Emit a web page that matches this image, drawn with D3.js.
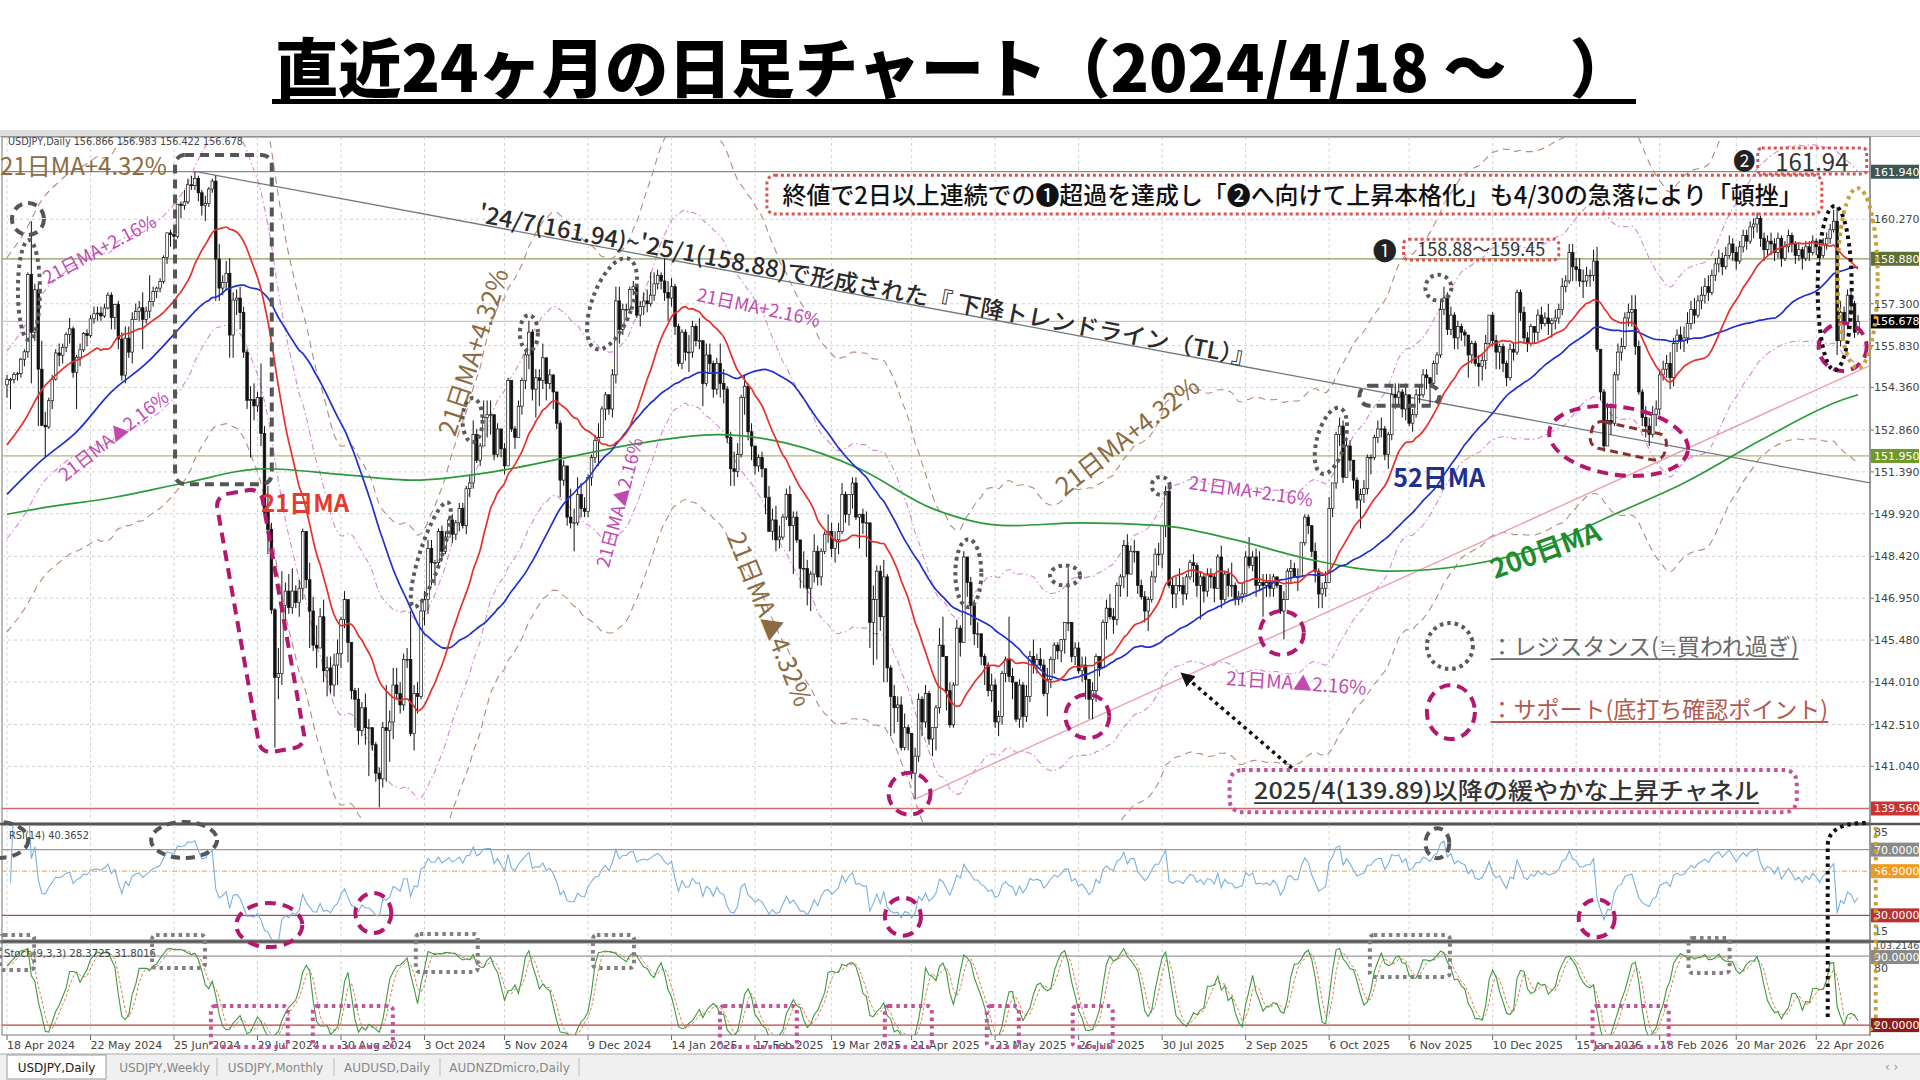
<!DOCTYPE html>
<html lang="ja"><head><meta charset="utf-8"><title>USDJPY Daily</title>
<script src="https://cdn.jsdelivr.net/npm/d3@7/dist/d3.min.js"></script>
<style>
html,body{margin:0;padding:0;background:#fff;}
svg{display:block;font-family:"Noto Sans CJK JP","Noto Sans",sans-serif;}
.ax{font-family:"DejaVu Sans","Liberation Sans",sans-serif;}
</style></head><body>
<svg id="chart" width="1920" height="1080"></svg>
<script>
// ---------------- DATA ----------------
const closes=[
154.64,154.64,
154.81,154.84,155.35,155.61,158.33,
156.30,157.79,155.00,153.03,152.97,
153.89,154.65,155.57,155.49,155.77,
156.22,156.42,154.89,155.42,155.68,
156.25,156.18,156.77,156.95,156.97,
156.87,157.15,157.60,156.82,157.28,
156.06,154.79,156.09,155.60,156.75,
157.03,157.16,156.75,157.04,157.38,
157.73,157.85,158.08,158.92,159.79,
159.73,159.67,160.80,160.75,160.88,
161.48,161.45,161.70,161.20,160.75,
160.82,161.33,161.61,158.87,157.85,
158.05,158.37,156.20,157.43,157.50,
156.99,155.60,153.90,153.93,153.71,
154.00,152.74,149.97,149.37,146.54,
144.17,144.30,146.70,147.20,146.62,
147.20,146.80,147.30,149.30,147.60,
146.50,145.30,145.20,146.30,144.40,
144.50,143.90,144.60,145.00,146.20,
146.90,145.40,143.70,143.40,142.30,
143.10,142.40,142.40,141.80,140.80,
140.60,142.40,142.30,142.60,143.90,
143.60,143.20,144.80,144.80,142.20,
143.60,143.50,146.50,146.90,148.70,
148.20,148.20,149.30,148.60,149.10,
149.70,149.20,149.60,150.10,149.50,
150.80,151.00,152.70,151.80,152.30,
153.30,153.40,153.40,152.00,152.90,
152.20,151.60,154.60,152.90,152.60,
153.70,154.60,155.50,156.30,154.30,
154.70,154.60,155.40,154.50,154.80,
154.20,153.10,151.10,151.60,149.80,
149.60,149.60,150.60,150.10,150.00,
151.20,151.90,152.50,152.60,153.60,
154.10,153.60,154.80,157.40,156.40,
157.10,157.10,157.80,157.90,
156.90,157.20,157.40,157.30,
157.60,158.00,158.30,158.10,157.70,
157.50,157.90,156.50,155.20,156.30,
155.60,155.60,156.50,156.00,156.00,
154.50,155.50,155.20,154.30,155.20,
154.50,154.30,152.60,151.50,151.40,
152.00,154.00,154.40,152.80,152.30,
151.60,151.90,151.50,150.50,149.30,
149.70,149.00,149.10,149.80,150.60,
149.50,149.80,149.00,148.00,148.00,
147.30,147.80,148.60,147.70,148.60,
149.20,149.30,148.70,149.00,149.30,
150.60,149.90,150.60,151.00,149.80,
149.90,149.60,149.60,146.10,146.90,
147.90,146.30,147.70,144.50,143.50,
143.10,143.20,141.70,142.40,142.20,
140.80,141.40,143.40,142.60,143.60,
142.00,142.40,143.10,145.30,144.90,
143.70,142.50,143.90,145.90,145.40,
148.40,147.50,146.70,145.70,145.70,
144.90,144.60,143.70,143.90,142.60,
142.80,144.30,144.80,144.20,144.00,
142.70,143.90,142.80,143.50,144.90,
144.60,144.80,144.60,143.60,144.10,
144.80,145.30,145.10,145.50,146.10,
146.10,144.90,145.20,144.40,144.60,
144.10,143.40,143.70,144.90,144.50,
146.10,146.60,146.30,146.20,147.40,
147.70,148.80,147.80,148.60,148.60,
147.40,147.00,146.50,146.90,147.70,
148.50,148.50,149.50,150.70,147.40,
147.10,147.40,147.40,147.10,147.70,
148.20,148.10,147.40,147.70,147.20,
147.80,147.70,147.30,148.40,146.90,
147.80,147.40,147.40,146.90,147.00,
147.10,148.40,148.10,148.40,147.40,
147.50,147.40,147.50,147.30,147.70,
147.40,146.50,146.90,147.90,148.00,
147.70,147.70,148.90,149.80,149.50,
148.60,147.90,147.10,147.30,147.50,
150.10,151.00,152.70,153.00,151.20,
152.30,151.80,151.10,150.40,150.60,
150.80,151.90,151.90,152.60,152.90,
152.90,152.00,152.70,154.10,154.00,
154.20,153.60,154.10,153.10,153.40,
154.10,154.10,154.80,154.70,154.50,
155.20,155.50,157.10,157.50,156.40,
156.90,156.10,156.50,156.30,156.20,
155.50,155.90,155.20,155.10,155.30,
155.90,156.90,156.00,155.60,155.80,
155.20,154.70,155.70,155.60,157.70,
157.00,156.10,155.90,156.50,
156.30,156.90,156.60,156.80,
156.60,156.70,156.80,157.10,157.90,
158.10,159.10,158.60,158.50,158.10,
158.10,158.30,158.30,158.80,155.70,
154.20,152.30,153.20,153.10,154.80,
155.60,155.80,156.80,157.00,157.10,
155.80,154.20,153.30,153.00,152.70,
153.40,153.60,154.80,155.00,155.20,
154.70,155.90,156.20,156.00,156.10,
156.60,157.10,156.90,157.40,157.60,
157.90,157.70,158.30,158.70,158.90,
158.60,159.00,159.40,159.10,158.80,
159.30,159.70,159.50,160.00,160.10,
160.30,159.60,159.20,159.50,159.40,
159.10,159.60,158.90,159.30,159.70,
159.40,159.00,159.20,158.90,159.30,
159.10,159.50,159.30,159.00,159.40,
159.60,159.90,160.20,156.00,157.00,
156.60,157.60,157.30,156.30,156.68];

const highs=[
154.8,154.7,
154.9,154.9,155.4,155.7,158.4,
160.2,158.0,158.0,156.0,153.5,
154.0,154.8,155.7,155.9,155.9,
156.3,156.8,156.5,155.5,155.9,
156.3,156.4,156.9,157.2,157.2,
157.2,157.3,157.7,157.7,157.3,
157.4,156.3,156.5,156.5,157.0,
157.3,157.4,157.7,157.2,158.3,
157.9,157.9,158.2,159.0,159.8,
159.9,159.9,160.8,160.9,161.3,
161.7,161.8,161.95,161.8,161.3,
161.1,161.4,161.7,161.8,159.4,
158.3,158.8,158.9,157.7,157.8,
157.9,157.2,155.7,154.4,154.5,
154.2,155.2,153.0,150.9,149.6,
146.6,145.2,147.9,147.5,147.8,
148.0,147.4,147.6,149.4,149.2,
148.2,147.0,146.0,146.6,146.9,
144.9,144.9,145.0,145.5,146.3,
147.2,146.5,145.3,143.8,143.8,
143.3,143.6,142.7,142.3,141.9,
141.0,142.6,143.9,143.0,144.5,
144.5,144.0,145.0,145.2,146.5,
143.9,144.0,146.9,147.2,149.0,
149.0,148.3,149.4,149.5,149.3,
149.8,149.9,149.7,150.3,150.3,
150.9,151.3,153.2,152.9,152.4,
153.9,153.9,153.9,153.2,153.1,
152.8,152.4,154.7,154.6,153.0,
153.9,154.7,155.6,156.7,156.4,
155.0,155.0,155.9,155.3,155.0,
154.5,154.2,153.2,151.8,151.5,
150.8,150.1,151.2,151.0,150.5,
151.3,152.0,152.7,153.1,153.7,
154.2,154.1,155.0,157.9,157.9,
157.3,157.3,157.9,158.1,
158.0,157.4,157.7,157.8,
158.4,158.4,158.5,158.4,158.9,
158.1,158.2,158.0,156.6,156.4,
156.4,156.2,156.7,156.6,156.8,
156.0,155.9,155.9,155.3,155.4,
155.9,155.0,154.4,152.8,152.1,
152.4,154.1,154.8,154.5,153.1,
152.2,152.0,152.1,151.5,150.9,
150.1,150.2,149.5,149.9,150.8,
150.9,150.0,150.0,149.0,148.6,
148.3,147.9,149.2,148.8,148.7,
149.3,149.9,149.6,149.3,149.6,
151.0,150.7,150.6,151.2,151.2,
149.9,150.1,150.0,149.3,147.4,
148.1,148.1,148.3,147.8,144.6,
143.9,143.5,143.5,142.9,142.5,
142.0,141.7,143.6,143.5,143.9,
143.7,142.4,143.2,145.9,146.3,
144.9,144.0,144.0,146.2,146.0,
148.6,148.3,147.7,146.9,146.1,
145.7,145.0,144.7,144.3,144.1,
143.0,144.4,144.9,146.3,144.5,
144.0,144.1,144.0,143.9,145.1,
145.5,145.0,145.2,144.8,144.5,
144.9,145.4,145.4,145.5,146.1,
148.0,146.0,145.4,145.4,144.9,
144.9,144.1,144.0,145.0,144.9,
146.2,146.9,147.1,146.6,147.5,
147.8,149.0,149.2,148.8,149.0,
148.6,147.6,147.2,147.0,147.9,
148.7,148.9,149.5,150.9,150.8,
147.7,147.7,148.0,147.7,147.8,
148.3,148.5,148.2,147.9,147.8,
148.0,148.0,147.8,148.5,148.8,
147.9,148.0,148.2,147.5,147.2,
147.5,148.6,149.1,148.6,148.7,
148.6,147.8,147.8,147.8,147.8,
147.7,147.4,147.2,148.0,148.3,
148.2,148.0,148.9,149.9,149.9,
149.5,148.9,148.0,147.5,147.9,
150.5,151.0,152.8,153.3,153.2,
152.6,152.5,151.7,151.2,150.8,
151.1,152.0,152.0,152.7,153.2,
153.3,153.0,152.8,154.4,154.5,
154.5,154.3,154.5,154.1,153.6,
154.3,154.4,155.0,155.0,154.7,
155.3,155.6,157.4,157.9,157.7,
157.2,157.0,156.7,156.6,156.4,
156.2,156.0,156.0,155.5,155.5,
156.2,156.9,157.0,156.2,155.9,
155.9,155.3,155.9,155.9,157.8,
157.8,157.2,156.3,156.6,
156.5,157.1,157.2,157.0,
157.3,156.8,157.1,157.3,158.2,
158.3,159.4,159.4,158.9,158.9,
158.5,158.6,158.5,159.2,159.3,
155.2,154.3,153.8,153.8,154.9,
155.9,156.1,157.0,157.3,157.6,
157.6,156.0,154.3,153.7,153.3,
153.7,153.9,155.0,155.3,155.5,
155.6,156.1,156.4,156.5,156.5,
157.0,157.4,157.5,157.6,157.9,
158.2,158.3,158.5,158.9,159.2,
159.1,159.3,159.7,159.6,159.3,
159.5,159.9,159.9,160.2,160.3,
160.5,160.4,159.8,159.7,159.8,
159.6,159.8,159.7,159.5,159.9,
159.8,159.5,159.4,159.3,159.5,
159.5,159.7,159.6,159.5,159.6,
159.8,160.1,160.6,160.7,157.4,
157.2,157.8,157.8,157.4,156.9];

const lows=[
154.0,153.6,
154.5,154.6,154.7,155.1,155.4,
154.5,156.0,153.0,153.0,151.9,
152.9,153.6,154.6,155.1,155.2,
155.6,155.9,154.7,153.6,155.1,
155.6,155.8,156.1,156.6,156.7,
156.7,156.8,157.1,156.4,156.4,
155.7,154.6,154.5,155.4,155.2,
156.9,156.7,155.7,156.6,156.8,
157.2,157.5,157.7,158.0,158.7,
159.3,159.2,159.6,160.3,160.6,
160.8,161.3,161.3,160.9,160.4,
160.2,160.7,161.2,157.4,157.4,
157.6,157.8,155.4,155.4,156.9,
156.4,155.4,153.6,151.9,153.2,
153.5,152.3,149.7,148.5,146.4,
141.7,143.4,143.9,145.8,146.4,
146.4,146.6,146.3,146.9,147.3,
145.2,145.1,144.5,145.2,144.0,
143.5,143.6,143.5,143.9,144.5,
145.9,144.7,143.4,142.4,141.8,
142.1,141.8,140.7,141.6,140.5,
139.6,140.3,140.5,141.2,142.0,
143.4,142.9,143.0,144.5,142.1,
141.6,142.9,143.4,146.0,146.4,
147.4,147.4,148.1,148.3,148.5,
149.1,148.9,149.0,149.3,149.4,
149.2,150.5,150.8,151.7,151.6,
152.6,152.6,152.7,151.8,151.9,
151.9,151.3,151.6,152.8,152.2,
152.7,153.4,154.3,155.0,153.9,
153.3,153.7,154.3,153.9,154.3,
153.6,152.9,150.5,150.9,149.5,
149.4,148.6,149.5,149.8,149.8,
149.8,150.9,151.7,151.6,152.6,
153.2,153.4,153.3,154.5,155.9,
156.2,156.7,157.0,157.6,
156.8,156.5,156.9,157.0,
157.2,157.4,157.8,157.8,157.4,
156.7,157.2,156.2,155.1,155.0,
155.3,154.9,155.4,155.8,155.7,
153.7,154.4,154.9,154.0,154.1,
154.0,153.8,152.4,150.9,150.9,
151.2,151.9,153.4,152.5,151.8,
151.3,151.4,151.2,149.9,149.3,
149.0,148.6,148.7,149.0,149.7,
148.6,147.8,148.9,147.3,147.3,
146.7,146.5,147.5,147.4,147.4,
148.5,148.9,148.4,148.2,148.5,
149.2,149.6,149.5,150.1,149.7,
148.7,149.2,148.4,145.2,144.6,
144.8,145.8,144.0,144.0,142.1,
142.2,142.6,141.6,141.6,141.6,
140.6,139.9,141.2,142.1,142.4,
141.8,141.4,141.6,142.9,144.9,
143.0,142.4,142.4,143.9,144.9,
145.5,147.0,146.0,145.3,145.2,
144.6,143.9,143.5,143.3,142.4,
142.1,142.5,144.0,144.0,143.4,
142.6,142.4,142.4,142.6,143.3,
144.3,144.3,144.5,143.5,142.8,
143.8,144.3,144.8,144.7,145.0,
145.8,144.7,144.6,144.3,144.0,
143.4,142.7,142.7,143.3,144.2,
144.6,145.5,146.2,145.7,146.0,
147.0,147.3,147.0,147.8,148.2,
147.1,146.9,146.1,145.8,146.8,
147.5,148.1,148.0,149.1,147.3,
146.6,146.6,147.2,146.7,146.9,
147.6,147.5,147.0,146.2,146.8,
147.0,147.3,146.8,147.3,146.6,
146.8,147.0,147.0,146.7,146.7,
146.8,147.1,148.0,147.9,147.0,
147.2,146.3,147.0,147.0,147.0,
147.3,146.4,145.5,146.9,147.5,
147.7,147.2,147.8,148.8,149.2,
148.4,147.5,146.6,146.6,147.0,
149.0,149.8,150.8,152.3,151.0,
151.6,151.4,150.8,150.1,149.4,
150.3,150.6,151.3,151.8,152.4,
152.6,151.8,151.5,152.5,153.6,
153.7,153.3,153.2,153.0,152.8,
153.3,153.8,154.0,154.3,153.7,
154.4,154.8,155.4,156.9,156.2,
156.2,155.7,155.7,156.0,155.8,
154.7,155.2,155.1,154.4,154.6,
155.0,155.8,155.8,155.0,155.0,
154.9,154.4,154.6,155.3,155.5,
156.7,155.9,155.6,155.8,
155.9,156.0,156.4,156.5,
156.2,156.1,156.4,156.6,156.9,
157.7,158.0,158.1,158.1,157.9,
157.5,157.9,157.9,158.1,155.6,
153.9,152.1,152.3,152.7,153.0,
154.6,155.3,155.7,156.5,156.5,
155.5,154.1,153.0,152.6,152.3,
152.6,153.0,153.4,154.6,154.7,
154.3,154.4,155.6,155.7,155.6,
155.9,156.4,156.6,156.8,157.1,
157.3,157.4,157.6,158.1,158.4,
158.3,158.5,158.9,158.8,158.5,
158.7,159.1,159.2,159.4,159.6,
159.8,159.3,158.8,159.0,159.0,
158.8,158.9,158.6,158.8,159.1,
159.1,158.7,158.8,158.5,158.8,
158.8,159.0,159.0,158.7,158.9,
159.2,159.4,159.8,155.5,155.8,
156.0,156.4,156.9,156.1,156.2];

// moving-average values read where the window starts before the picture
const ma21Head=[[0,152.34],[5,153.19],[10,154.28],[15,154.90],[19,155.27]];
const ma52Head=[[0,150.6],[10,151.8],[20,152.8],[30,154.2],[40,155.2],[50,156.5]];
const ma200Pts=[[0,149.9],[9,150.1],[31,150.5],[51,151.0],[74,151.5],[96,151.3],[117,151.1],[140,151.4],[161,151.9],[182,152.4],[204,152.7],[224,152.4],[245,151.5],[266,150.1],[288,149.5],[309,149.6],[332,149.5],[353,149.0],[375,148.3],[398,147.9],[419,148.1],[440,148.7],[462,149.9],[482,151.0],[504,152.5],[527,153.9],[532,154.1]];

const tickIdx=[0,24,48,72,96,120,143,167,191,215,237,260,284,308,332,356,380,403,427,451,475,497,520];
const tickLabels=["18 Apr 2024","22 May 2024","25 Jun 2024","29 Jul 2024","30 Aug 2024","3 Oct 2024","5 Nov 2024","9 Dec 2024","14 Jan 2025","17 Feb 2025","19 Mar 2025","21 Apr 2025","23 May 2025","26 Jun 2025","30 Jul 2025","2 Sep 2025","6 Oct 2025","6 Nov 2025","10 Dec 2025","15 Jan 2026","18 Feb 2026","20 Mar 2026","22 Apr 2026"];
const priceTicks=[160.27,157.30,155.83,154.36,152.86,151.39,149.92,148.42,146.95,145.48,144.01,142.51,141.04];
const priceMarks=[[161.94,"#3d5656"],[158.88,"#5e7034"],[156.678,"#000000"],[151.95,"#6f9a2a"],[139.56,"#c83434"]];
const tlPts=[[54,161.95],[189,158.88]];
const channelPts=[[261,139.89],[366,145.72]];
const envPct=[0.0432,0.0216];
const tabNames=["USDJPY,Daily","USDJPY,Weekly","USDJPY,Monthly","AUDUSD,Daily","AUDNZDmicro,Daily"];

// ---------------- SCALES ----------------
const N=Math.min(closes.length,highs.length,lows.length);
const svg=d3.select('#chart');
const X0=2,X1=1870;
const x=d3.scaleLinear().domain([0,N-1]).range([7,1858]);
const y=d3.scaleLinear().domain([139.05,163.16]).range([823,137]);
const yR=d3.scaleLinear().domain([15,85]).range([940,825]);
const yS=d3.scaleLinear().domain([10,103.2146]).range([1035,943]);

const bars=closes.slice(0,N).map((c,i)=>{const o=i?closes[i-1]:154.45;return {i,o,c,h:Math.max(highs[i],o,c),l:Math.min(lows[i],o,c)};});
function sma(n){const out=[];let s=0;for(let i=0;i<N;i++){s+=closes[i];if(i>=n)s-=closes[i-n];if(i>=n-1)out.push([i,s/n]);}return out;}
const ma21=ma21Head.concat(sma(21));
const ma52=ma52Head.concat(sma(52));
const rsi=[];{let ag=0,al=0;for(let i=1;i<N;i++){const d=closes[i]-closes[i-1];const g=Math.max(d,0),l=Math.max(-d,0);
 if(i<=14){ag+=g/14;al+=l/14;}else{ag=(ag*13+g)/14;al=(al*13+l)/14;}
 rsi.push([i,(ag+al)>0?100*ag/(ag+al):50]);}}
const hh=[],ll=[];for(let i=0;i<N;i++){let a=-Infinity,b=Infinity;for(let j=Math.max(0,i-8);j<=i;j++){a=Math.max(a,bars[j].h);b=Math.min(b,bars[j].l);}hh.push(a);ll.push(b);}
const K=[];for(let i=0;i<N;i++){let nu=0,de=0;for(let j=Math.max(0,i-2);j<=i;j++){nu+=closes[j]-ll[j];de+=hh[j]-ll[j];}K.push([i,de?100*nu/de:50]);}
const Dl=K.map((d,i)=>{let s=0,c=0;for(let j=Math.max(0,i-2);j<=i;j++){s+=K[j][1];c++;}return [i,s/c];});

// ---------------- FRAME ----------------
const defs=svg.append('defs');
[['cm',137,823],['cr',825,940],['cs',943,1035]].forEach(([id,t,b])=>defs.append('clipPath').attr('id',id).append('rect').attr('x',X0).attr('y',t).attr('width',X1-X0).attr('height',b-t));
defs.append('marker').attr('id','arr').attr('viewBox','0 0 10 10').attr('refX',5).attr('refY',5).attr('markerWidth',4).attr('markerHeight',4).attr('orient','auto-start-reverse')
 .append('path').attr('d','M0,0L10,5L0,10z').attr('fill','#111');

svg.append('rect').attr('x',0).attr('y',0).attr('width',1920).attr('height',1080).attr('fill','#fff');
svg.append('rect').attr('x',0).attr('y',130).attr('width',1920).attr('height',6).attr('fill','#dedede');
svg.append('line').attr('x1',0).attr('x2',1920).attr('y1',136.5).attr('y2',136.5).attr('stroke','#aaa');
[[137,823],[825,940],[943,1035]].forEach(([t,b])=>svg.append('rect').attr('x',X0).attr('y',t).attr('width',X1-X0).attr('height',b-t).attr('fill','#fff').attr('stroke','#777').attr('stroke-width',1));
svg.append('line').attr('x1',0).attr('x2',1920).attr('y1',824).attr('y2',824).attr('stroke','#555').attr('stroke-width',2.5);
svg.append('line').attr('x1',0).attr('x2',1920).attr('y1',941.5).attr('y2',941.5).attr('stroke','#555').attr('stroke-width',2.5);
svg.append('line').attr('x1',X1).attr('x2',X1).attr('y1',137).attr('y2',1036).attr('stroke','#777');

const grid=svg.append('g').attr('stroke','#d2d2d2').attr('stroke-dasharray','3,3').attr('stroke-width',1);
tickIdx.forEach(t=>{[[137,823],[825,940],[943,1035]].forEach(([a,b])=>grid.append('line').attr('x1',x(t)).attr('x2',x(t)).attr('y1',a).attr('y2',b));});
priceTicks.forEach(p=>grid.append('line').attr('x1',X0).attr('x2',X1).attr('y1',y(p)).attr('y2',y(p)));

// ---------------- MAIN PANEL ----------------
const gm=svg.append('g').attr('clip-path','url(#cm)');
const lvlCol={"161.94":"#8a8a8a","158.88":"#8d9a5a","156.678":"#c8c8c8","151.95":"#b4b474","139.56":"#d46a6a"};
priceMarks.forEach(([p])=>gm.append('line').attr('x1',X0).attr('x2',X1).attr('y1',y(p)).attr('y2',y(p)).attr('stroke',lvlCol[String(p)]).attr('stroke-width',1.3));

const lineP=d3.line().x(d=>x(d[0])).y(d=>y(d[1])).curve(d3.curveMonotoneX);
envPct.forEach(k=>{[1,-1].forEach(sg=>{
  const pts=ma21.map(([i,v])=>[i,v*(1+sg*k)]);
  gm.append('path').attr('d',lineP(pts)).attr('fill','none')
   .attr('stroke',k>0.03?'#b48a78':'#d488d4').attr('stroke-width',1.1)
   .attr('stroke-dasharray',k>0.03?'7,5':'6,3,1.5,3');
});});
const tlSlope=(tlPts[1][1]-tlPts[0][1])/(tlPts[1][0]-tlPts[0][0]);
const tlAt=i=>tlPts[0][1]+tlSlope*(i-tlPts[0][0]);
gm.append('line').attr('x1',x(tlPts[0][0])).attr('y1',y(tlPts[0][1])).attr('x2',X1).attr('y2',y(tlAt(x.invert(X1)))).attr('stroke','#707a80').attr('stroke-width',1.3);
const chSlope=(channelPts[1][1]-channelPts[0][1])/(channelPts[1][0]-channelPts[0][0]);
const chAt=i=>channelPts[0][1]+chSlope*(i-channelPts[0][0]);
gm.append('line').attr('x1',x(channelPts[0][0])).attr('y1',y(channelPts[0][1])).attr('x2',X1).attr('y2',y(chAt(x.invert(X1)))).attr('stroke','#eaa0b0').attr('stroke-width',1.4);

gm.append('g').selectAll('line').data(bars).join('line')
  .attr('x1',d=>x(d.i)).attr('x2',d=>x(d.i)).attr('y1',d=>y(d.h)).attr('y2',d=>y(d.l)).attr('stroke','#111').attr('stroke-width',1);
gm.append('g').selectAll('rect').data(bars).join('rect')
  .attr('x',d=>x(d.i)-1.3).attr('width',2.6)
  .attr('y',d=>y(Math.max(d.o,d.c))).attr('height',d=>Math.max(0.8,Math.abs(y(d.o)-y(d.c))))
  .attr('fill',d=>d.c>=d.o?'#fff':'#111').attr('stroke','#111').attr('stroke-width',0.7);

gm.append('path').attr('d',lineP(ma200Pts)).attr('fill','none').attr('stroke','#2a9a3a').attr('stroke-width',1.7);
gm.append('path').attr('d',lineP(ma52)).attr('fill','none').attr('stroke','#2030d0').attr('stroke-width',1.7);
gm.append('path').attr('d',lineP(ma21)).attr('fill','none').attr('stroke','#e8302a').attr('stroke-width',1.7);

// ---------------- RSI PANEL ----------------
const gr=svg.append('g').attr('clip-path','url(#cr)');
gr.append('line').attr('x1',X0).attr('x2',X1).attr('y1',yR(70)).attr('y2',yR(70)).attr('stroke','#9a9a9a').attr('stroke-width',1.3);
gr.append('line').attr('x1',X0).attr('x2',X1).attr('y1',yR(30)).attr('y2',yR(30)).attr('stroke','#a05050').attr('stroke-width',1.3);
gr.append('line').attr('x1',X0).attr('x2',X1).attr('y1',yR(56.9)).attr('y2',yR(56.9)).attr('stroke','#f0a030').attr('stroke-width',1).attr('stroke-dasharray','5,2,1,2');
gr.append('path').attr('d',d3.line().x(d=>x(d[0])).y(d=>yR(d[1]))(rsi)).attr('fill','none').attr('stroke','#7ab0df').attr('stroke-width',1.1);

// ---------------- STOCH PANEL ----------------
const gs=svg.append('g').attr('clip-path','url(#cs)');
gs.append('line').attr('x1',X0).attr('x2',X1).attr('y1',yS(90)).attr('y2',yS(90)).attr('stroke','#9a9a9a').attr('stroke-width',1.3);
gs.append('line').attr('x1',X0).attr('x2',X1).attr('y1',yS(20)).attr('y2',yS(20)).attr('stroke','#c04040').attr('stroke-width',1.3);
gs.append('path').attr('d',d3.line().x(d=>x(d[0])).y(d=>yS(d[1]))(Dl)).attr('fill','none').attr('stroke','#e07a5a').attr('stroke-width',1).attr('stroke-dasharray','3,2');
gs.append('path').attr('d',d3.line().x(d=>x(d[0])).y(d=>yS(d[1]))(K)).attr('fill','none').attr('stroke','#3f9a3f').attr('stroke-width',1.1);

// ---------------- AXES / LABELS ----------------
const ax=svg.append('g').attr('class','ax');
function tag(yy,txt,bg,fg,fs){ if(bg) ax.append('rect').attr('x',1871).attr('y',yy-7).attr('width',48).attr('height',14).attr('fill',bg);
  ax.append('text').attr('x',1874).attr('y',yy+4).attr('font-size',fs||11).attr('fill',fg||'#444').text(txt);}
priceTicks.forEach(p=>{ax.append('line').attr('x1',X1).attr('x2',X1+4).attr('y1',y(p)).attr('y2',y(p)).attr('stroke','#777');tag(y(p),p.toFixed(3));});
priceMarks.forEach(([p,c])=>tag(y(p),p.toFixed(3),c,'#fff'));
tag(832,'85');tag(yR(70),'70.0000','#8a8a8a','#fff');tag(yR(56.9),'56.9000','#f39a1e','#fff');tag(yR(30),'30.0000','#b83232','#fff');tag(931,'15');
tag(944.5,'103.2146',null,'#444',9.5);tag(yS(90)+1,'90.0000','#8a8a8a','#fff');tag(yS(80)+2,'80');tag(yS(20),'20.0000','#8b1a1a','#fff');
tickIdx.forEach((t,k)=>{ax.append('line').attr('x1',x(t)).attr('x2',x(t)).attr('y1',1035).attr('y2',1040).attr('stroke','#666');
  ax.append('text').attr('x',x(t)).attr('y',1049).attr('font-size',11).attr('fill','#444').text(tickLabels[k]);});
ax.append('text').attr('x',8).attr('y',145).attr('font-size',10).attr('fill','#444').attr('textLength',235).attr('lengthAdjust','spacingAndGlyphs').text('USDJPY,Daily  156.866 156.983 156.422 156.678');
ax.append('text').attr('x',9).attr('y',839).attr('font-size',11).attr('fill','#444').attr('textLength',80).attr('lengthAdjust','spacingAndGlyphs').text('RSI(14) 40.3652');
ax.append('text').attr('x',4).attr('y',957).attr('font-size',11).attr('fill','#444').attr('textLength',152).attr('lengthAdjust','spacingAndGlyphs').text('Stoch(9,3,3) 28.3725 31.8016');

svg.append('rect').attr('x',0).attr('y',1054).attr('width',1920).attr('height',26).attr('fill','#f0f0f0');
svg.append('line').attr('x1',0).attr('x2',1920).attr('y1',1054).attr('y2',1054).attr('stroke','#aaa');
const tabX=[[7,106],[112,217],[217,334],[334,440],[440,579]];
tabNames.forEach((t,k)=>{const [a,b]=tabX[k];
  if(k===0) svg.append('rect').attr('x',a).attr('y',1055).attr('width',b-a).attr('height',24).attr('fill','#fff').attr('stroke','#999');
  else svg.append('line').attr('x1',b).attr('x2',b).attr('y1',1058).attr('y2',1076).attr('stroke','#bbb');
  svg.append('text').attr('class','ax').attr('x',(a+b)/2).attr('y',1072).attr('text-anchor','middle').attr('font-size',12).attr('fill',k===0?'#222':'#888').text(t);});
svg.append('text').attr('class','ax').attr('x',1885).attr('y',1071).attr('font-size',12).attr('fill','#999').text('‹   ›');

// ---------------- TITLE ----------------
svg.append('text').attr('x',275).attr('y',92).attr('font-size',64).attr('font-weight',900).attr('fill','#000')
  .attr('textLength',1358).attr('lengthAdjust','spacingAndGlyphs').text('直近24ヶ月の日足チャート（2024/4/18 ～　）');
svg.append('rect').attr('x',272).attr('y',99).attr('width',1364).attr('height',5).attr('fill','#000');

// ---------------- ANNOTATIONS ----------------
const A=svg.append('g');
const STY={gdash:['#555',4,'9,6'],gdot:['#5a5a5a',4,'3.5,4'],mdash:['#b3176e',4,'11,7'],mdot:['#c0559a',4,'3.5,4'],kdot:['#111',4,'3.5,4'],ydot:['#c9a233',4,'3.5,4'],rdot:['#d9534f',3,'3,3'],bdash:['#8b2e2e',3,'8,5'],gdot2:['#808080',4,'3.5,4']};
function st(sel,k){const s=STY[k];return sel.attr('fill','none').attr('stroke',s[0]).attr('stroke-width',s[1]).attr('stroke-dasharray',s[2]);}
function ell(i,p,rx,ry,k,rot,ys){ys=ys||y;const cx=x(i),cy=ys(p);st(A.append('ellipse').attr('cx',cx).attr('cy',cy).attr('rx',rx).attr('ry',ry).attr('transform',rot?`rotate(${rot},${cx},${cy})`:null),k);}
function box(i0,p0,i1,p1,k,r,ys){ys=ys||y;const a=x(i0),b=x(i1),t=ys(p0),u=ys(p1);st(A.append('rect').attr('x',a).attr('y',t).attr('width',b-a).attr('height',u-t).attr('rx',r||6),k);}
function rbox(i,p,w,h,k,rot,r){const cx=x(i),cy=y(p);st(A.append('rect').attr('x',cx-w/2).attr('y',cy-h/2).attr('width',w).attr('height',h).attr('rx',r||8).attr('transform',`rotate(${rot},${cx},${cy})`),k);}
function txt(t,i,p,o){const cx=x(i),cy=y(p);const e=A.append('text').attr('x',cx).attr('y',cy).text(t).attr('font-size',o.s).attr('fill',o.c).attr('font-weight',o.w||400)
  .attr('text-anchor',o.a||'middle').attr('dominant-baseline',o.mid?'central':null);
  if(o.r) e.attr('transform',`rotate(${o.r},${cx},${cy})`);
  if(o.len) e.attr('textLength',o.len).attr('lengthAdjust','spacingAndGlyphs');
  if(o.ul){const b=e.node().getBBox();A.append('line').attr('x1',b.x).attr('x2',b.x+b.width).attr('y1',cy+4).attr('y2',cy+4).attr('stroke',o.uc||o.c).attr('stroke-width',1.8);}
  return e;}
const BR='#8b6b43',PK='#c04ab0';
txt('21日MA+4.32%',-2.0,161.84,{s:24,c:BR,a:'start'});
ell(6.03,160.28,16,16,'gdash');
ell(6.3,157.78,11,50,'gdot');
txt('21日MA+2.16%',26.4,159.26,{s:18,c:PK,r:-28,mid:1});
txt('21日MA▲2.16%',30.4,152.7,{s:18,c:PK,r:-38,mid:1});
box(48.3,162.53,76.1,150.96,'gdash',10);
txt('21日MA',73.0,149.98,{s:24,c:'#e23a30',w:700,a:'start'});
rbox(72.9,146.15,46,262,'mdash',-10,12);
txt('21日MA+4.32%',133.5,155.62,{s:25,c:BR,r:-72,mid:1});
ell(121.8,148.48,11,55,'gdot',18);
ell(133.8,153.21,10,22,'gdot');
ell(150,156.27,9,18,'gdot');
txt('21日MA▲2.16%',175.7,150.33,{s:18,c:PK,r:-75,mid:1});
ell(173.9,157.3,20,48,'gdot',20);
txt('21日MA+2.16%',216.1,157.22,{s:18,c:PK,r:12,mid:1});
{const i0=135.2,i1=300;const ang=Math.atan2(y(tlAt(i1))-y(tlAt(i0)),x(i1)-x(i0))*180/Math.PI;
 const cx=x(i0),cy=y(tlAt(i0))-2;
 A.append('text').attr('x',cx).attr('y',cy).attr('font-size',23).attr('font-weight',500).attr('fill','#2a2a2a').attr('transform',`rotate(${ang},${cx},${cy})`)
  .attr('textLength',790).attr('lengthAdjust','spacingAndGlyphs')
  .text("'24/7(161.94)~'25/1(158.88)で形成された『 下降トレンドライン（TL）』");}
txt('21日MA▲4.32%',219.7,146.24,{s:25,c:BR,r:68,mid:1});
ell(276.3,147.83,13,34,'gdot');
ell(304.1,147.75,15,10,'gdot');
ell(259.4,140.08,21,21,'mdash');
ell(310.5,142.8,22,22,'mdash');
ell(366.4,145.73,22,22,'mdash');
txt('21日MA+4.32%',321.7,152.7,{s:25,c:BR,r:-38,mid:1});
ell(331.6,150.9,9,9,'gdot');
txt('21日MA+2.16%',357.6,150.76,{s:18,c:PK,r:8,mid:1});
ell(380.5,152.48,14,34,'gdot',15);
txt('52日MA',398.4,150.86,{s:25,c:'#1e2f8f',w:700,a:'start'});
txt('200日MA',442.0,148.69,{s:27,c:'#1f8c2e',w:700,r:-20,mid:1});
rbox(400.2,154.07,80,20,'gdash',0,10);
ell(411.4,157.86,13,13,'gdot');
ell(463.2,152.48,70,34,'mdash',8);
rbox(466,152.48,76,27,'bdash',12,10);
ell(527.6,155.78,24,24,'mdash');
ell(525.3,157.85,17,82,'kdot');
ell(531.9,158.2,20,90,'ydot');
txt('❷',499.3,162.4,{s:22,c:'#222',mid:1});
box(503.2,162.77,534.5,161.86,'rdot',4);
txt('161.94',508.2,161.97,{s:24,c:'#333',a:'start'});
box(218.4,161.82,521.6,160.45,'rdot',8);
txt('終値で2日以上連続での❶超過を達成し「❷へ向けて上昇本格化」も4/30の急落により「頓挫」',369.5,160.8,{s:24,c:'#111',w:500,len:1020});
txt('❶',396,159.19,{s:24,c:'#222',mid:1});
box(401.4,159.57,446,158.84,'rdot',5);
txt('158.88～159.45',423.7,158.98,{s:18,c:'#333'});
ell(414.7,145.27,23,23,'gdot');
txt('：レジスタンス(≒買われ過ぎ)',426.4,144.95,{s:23,c:'#6a6a6a',a:'start',ul:1});
ell(415,142.95,24,27,'mdash');
txt('：サポート(底打ち確認ポイント)',426.4,142.74,{s:23,c:'#b35a50',a:'start',ul:1});
txt('21日MA▲2.16%',350.3,143.9,{s:19,c:PK,a:'start',r:4});
st(A.append('line').attr('x1',x(369.3)).attr('y1',y(140.98)).attr('x2',x(338.8)).attr('y2',y(144.18)).attr('marker-end','url(#arr)'),'kdot').attr('stroke-width',3.5);
box(351.4,140.91,514.4,139.43,'mdot',12);
txt('2025/4(139.89)以降の緩やかな上昇チャネル',431,139.89,{s:23,c:'#333',w:500,len:505,ul:1});
ell(-2.5,75.9,30,18,'gdash',0,yR);
ell(50.9,75.9,33,18,'gdash',0,yR);
ell(411.1,73.9,12,15,'gdash',0,yR);
ell(75.4,24.1,33,22,'mdash',0,yR);
ell(105.3,31.4,18,20,'mdash',0,yR);
ell(257.5,29.2,18,19,'mdash',0,yR);
ell(456.9,28.2,18,19,'mdash',0,yR);
[[-2,111.3,7.8,75.9],[41.7,111.3,56.9,77.9],[117.5,112.3,135.3,73.8],[168.4,111.3,180.2,77.9],[391.7,111.3,414.7,68.8],[483.3,108.3,495.1,72.8]]
 .forEach(r=>box(r[0],r[1],r[2],r[3],'gdot2',4,yS));
[[58.6,80.7],[87.9,110.9],[204.9,227.0],[252.3,265.8],[281.6,290.8],[306.3,317.8],[455.7,477.6]]
 .forEach(r=>box(r[0],39.3,r[1],-2.2,'mdot',4,yS));
st(A.append('path').attr('d',`M${x(523.3)},${yS(28.2)} L${x(523.3)},${yR(72.8)} Q${x(523.6)},${yR(86.2)} ${x(534.2)},${yR(86.2)}`),'kdot');
st(A.append('path').attr('d',`M${x(537.1)},${yR(83.8)} L${x(537.1)},${yS(23.2)} Q${x(537.1)},${yS(15.1)} ${x(534.2)},${yS(15.1)}`),'ydot');
</script>
</body></html>
